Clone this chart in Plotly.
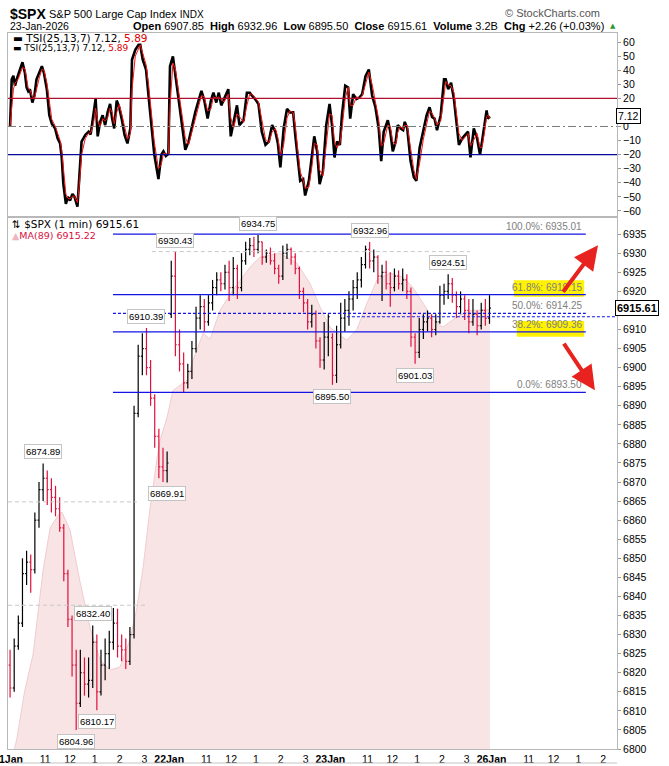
import plotly.graph_objects as go

# ---------------- data ----------------
day_labels = ["21Jan", "22Jan", "23Jan", "26Jan"]
session_minutes = 390
hour_offsets = [90, 150, 210, 270, 330]
hour_labels = ["11", "12", "1", "2", "3"]

# 10-minute OHLC bars, minutes since 21-Jan open (bar centre)
bar_minute = list(range(5, 1170, 10))
bar_open = [6822, 6816, 6827, 6833, 6846, 6849, 6847, 6860, 6868, 6871, 6868, 6866, 6863, 6858, 6846, 6834,
            6822, 6812, 6820, 6817, 6818, 6828, 6815, 6822, 6825, 6828, 6833, 6827, 6826, 6823, 6830, 6888,
            6903, 6905, 6900, 6892, 6882, 6874, 6873,
            6914, 6924, 6906, 6901, 6896, 6899, 6905, 6913, 6916, 6912, 6917, 6921, 6923, 6922, 6925, 6921,
            6926, 6921, 6928, 6931, 6932, 6931, 6933, 6929, 6930, 6928, 6926, 6924, 6930, 6931, 6929, 6926,
            6920, 6917, 6912, 6914, 6907, 6902, 6908,
            6907.85, 6898, 6906, 6913, 6915, 6918, 6921, 6923, 6927, 6931, 6928, 6929, 6924, 6925, 6922, 6921,
            6924, 6922, 6923, 6920, 6908, 6904, 6910, 6912, 6913, 6910, 6912, 6919, 6920, 6922, 6919, 6916,
            6918, 6915, 6912, 6914, 6911, 6915, 6913]
bar_high = [6826, 6829, 6835, 6850, 6852, 6851, 6862, 6870, 6874.89, 6873, 6871, 6869, 6866, 6859, 6847, 6835,
            6826, 6826, 6824, 6824, 6832.40, 6830, 6826, 6829, 6831, 6837, 6836.8, 6830, 6829, 6832, 6890, 6906,
            6909, 6910.39, 6902, 6893, 6884, 6879, 6878,
            6928, 6930.43, 6910, 6904, 6901, 6907, 6916, 6919, 6918, 6919, 6923, 6925, 6925, 6927, 6928,
            6929, 6927, 6930, 6933, 6934, 6934.3, 6934.75, 6933, 6931, 6931.5, 6930, 6927, 6932, 6932.5, 6931.5,
            6930, 6926.5, 6921, 6918, 6916.5, 6915, 6908, 6912, 6914,
            6909, 6911, 6917, 6918, 6920, 6923, 6925, 6929, 6932, 6932.96, 6931, 6929.5, 6927, 6928, 6925, 6926,
            6925.5, 6926, 6924.5, 6921, 6909, 6913, 6914, 6915, 6914, 6914, 6921.5, 6922, 6924.51, 6923.5, 6920,
            6920, 6919, 6918, 6918, 6915, 6917, 6918, 6919]
bar_low = [6813.5, 6815, 6826, 6832, 6843, 6841, 6846, 6858, 6865, 6864, 6862, 6861, 6857, 6844, 6832, 6819,
           6804.96, 6811, 6814, 6813.5, 6816, 6810.17, 6814, 6818, 6821, 6826, 6824, 6823, 6821, 6822, 6829, 6887,
           6898, 6898, 6890, 6879, 6871, 6870, 6869.91,
           6913, 6903, 6899, 6893.5, 6894.5, 6897, 6904, 6910, 6909.5, 6911, 6915, 6919, 6920, 6920.5, 6917.5,
           6919, 6918, 6920, 6927, 6929.5, 6929, 6930, 6927, 6927.5, 6927, 6924.5, 6922, 6923, 6928.5, 6927,
           6924.5, 6918, 6914.5, 6910, 6910.5, 6905, 6900, 6899.5, 6903,
           6895.50, 6896, 6905, 6909.5, 6911, 6915, 6918, 6921, 6926, 6926, 6925, 6922, 6917.5, 6920.5, 6916, 6920,
           6920.5, 6920, 6918, 6905.5, 6901.03, 6902.5, 6907.5, 6909.5, 6908, 6908.5, 6911.5, 6916.5, 6918, 6917,
           6913, 6914, 6912.5, 6909, 6911, 6908.5, 6910, 6911, 6911.5]
bar_close = [6816, 6827, 6833, 6846, 6849, 6847, 6860, 6868, 6871, 6868, 6866, 6863, 6858, 6846, 6834, 6822,
             6812, 6820, 6817, 6818, 6828, 6815, 6822, 6825, 6828, 6833, 6827, 6826, 6823, 6830, 6888, 6903,
             6905, 6900, 6892, 6882, 6874, 6873, 6875,
             6924, 6906, 6901, 6896, 6899, 6905, 6913, 6916, 6912, 6917, 6921, 6923, 6922, 6925, 6921,
             6926, 6921, 6928, 6931, 6932, 6931, 6933, 6929, 6930, 6928, 6926, 6924, 6930, 6931, 6929, 6926,
             6920, 6917, 6912, 6914, 6907, 6902, 6908, 6913.35,
             6898, 6906, 6913, 6915, 6918, 6921, 6923, 6927, 6931, 6928, 6929, 6924, 6925, 6922, 6921, 6924,
             6922, 6923, 6920, 6908, 6904, 6910, 6912, 6913, 6910, 6912, 6919, 6920, 6922, 6919, 6916, 6918,
             6915, 6912, 6914, 6911, 6915, 6913, 6915.61]

# MA(89) outline
ma_minute = [10, 22, 40, 61, 85, 102, 126, 131, 150, 174, 198, 223, 247, 271, 295, 312, 327, 344, 361, 368,
             385, 399, 433, 448, 472, 489, 513, 544, 586, 610, 658, 699, 731, 755, 779, 820, 844, 869, 893,
             924, 956, 980, 1004, 1028, 1052, 1086, 1121, 1166]
ma_value = [6797, 6803, 6815, 6825, 6847, 6858, 6862, 6862, 6857.4, 6844, 6832, 6823.3, 6820.7, 6821.5,
            6828.6, 6837, 6847.7, 6863.4, 6876.5, 6881, 6887, 6894, 6896.7, 6902, 6909, 6907.5, 6915, 6920.3,
            6926.4, 6929, 6930, 6927.4, 6922, 6915.9, 6910.6, 6907.2, 6910, 6917, 6923, 6924.8, 6923.7, 6921,
            6917, 6912.5, 6910.6, 6913.3, 6915, 6915.22]

# TSI(25,13,7) and its signal line
tsi_minute = [5, 9, 13, 17, 21, 25, 29, 35, 41, 45, 49, 53, 59, 64, 69, 76, 82, 87, 94, 100,
              106, 114, 120, 126, 130, 134, 140, 145, 150, 156, 161, 168, 173, 178, 187, 195, 200, 207, 212, 217,
              223, 229, 235, 241, 247, 252, 257, 263, 269, 275, 282, 289, 296, 300, 308, 316, 320, 326, 334, 340,
              348, 354, 364, 371, 376, 382, 388, 392, 399, 405, 413, 421, 429, 437, 445, 453, 461, 468, 475, 483,
              491, 497, 504, 510, 516, 523, 533, 539, 546, 554, 560, 570, 578, 585, 590, 598, 606, 614, 623, 631,
              639, 647, 653, 659, 667, 675, 682, 690, 695, 701, 707, 714, 719, 728, 736, 741, 748, 754, 762, 770,
              778, 784, 790, 796, 803, 808, 816, 823, 828, 835, 843, 851, 857, 865, 873, 881, 889, 897, 903, 909,
              919, 925, 931, 938, 943, 950, 956, 960, 966, 974, 982, 988, 996, 1005, 1013, 1020, 1026, 1032, 1038,
              1047, 1055, 1059, 1065, 1072, 1079, 1085, 1091, 1099, 1107, 1113, 1119, 1127, 1135, 1142, 1147, 1153,
              1158, 1161, 1166]
tsi_value = [0, 33.5, 36, 29, 33.5, 37, 40.5, 45.6, 38, 27.7, 25, 26.5, 17, 22, 33.5, 39, 42.8, 38, 26.5, 8,
             2, -1.4, -8.4, -12, -22, -41, -55, -50, -52.6, -48, -50, -57, -29, -10.7, -6, -3.7, -5.6, 8, 19.5, -7,
             3.3, 8, 1, 10, 16, 5.6, -1.4, 18.4, 13.7, 5.6, -6, -12, -1.4, 47.4, 54.4, 58, 58, 47.4, 40.5, 22,
             -1.4, -20, -37.4, -20, -17.7, -21, -19.5, 42.8, 49.8, 35.8, 17, 1, -16.5, -10.7, 1, 10, 18.4, 25.3, 18.4, 5.6,
             18.4, 24, 17, 24, 15, 19.5, 26.5, -7, 3.3, 15, 1, 4.4, 24, 24, 22, 19.5, 16, -3.7, -13, -10.7,
             1, -3.7, -12, -29, -1.4, 12.5, 10, 10, -6, -24.6, -38.6, -37.4, -49, -38.6, -17.7, -7, -17.7, -41, -31.6, 1,
             16, 1, -22, -10.7, -13, 8, 29, 27.7, 5.6, 23, 19.5, 20.7, 23, 35.8, 40.5, 22, 13.7, -1.4, -24.6, -3.7,
             4.4, -3.7, -17.7, -10.7, 1, -1.4, -2.6, 3.3, -1.4, -24.6, -36, -38.6, -15, -3.7, 8, 13.7, 6.7, 5.6, -2.6,
             8, 33.5, 33.5, 26.5, 31, 19.5, 3.3, -13, -8.4, -6, -3.7, -22, -1.4, -8.4, -20, -10.7, 3.3,
             11.4, 5.6, 7.12]
tsi_signal = [0, 12, 26, 31, 32, 34, 37.5, 42, 41, 33, 27, 26, 21, 20, 27, 35, 40.5, 40, 31, 16,
              5, 0.5, -5, -10, -17, -32, -48, -51, -51.5, -49.5, -49.5, -54, -40, -20, -8.5, -4.8, -4.6, 2, 13, 4,
              0, 5.5, 4, 6, 13, 10, 2, 10, 15.5, 9, -1, -9, -5, 26, 50, 56, 58, 52, 44, 30,
              9, -11, -30, -27, -19, -19.5, -20, 14, 45, 41, 25, 8, -8, -13, -4, 6, 14.5, 22, 21, 11,
              12.5, 21, 20, 21, 19, 17.5, 23, 6, -1, 9, 7, 3, 15, 23, 23, 20.5, 17.5, 5, -9, -11.5,
              -4, -1.5, -8, -21, -13, 6, 11, 10, 1, -16, -32, -38, -44, -43, -27, -12, -13, -31, -35, -13,
              9, 8, -11, -15, -12, -2, 20, 28, 15, 15, 21, 20, 22, 30, 38.5, 30, 17, 5, -14, -12,
              1, 0, -11, -13, -4, 0, -2, 1, 0.5, -14, -31, -37.5, -26, -9, 3, 11, 9.5, 6, 1,
              4, 22, 32, 29.5, 29, 24, 11, -5, -10, -7, -5, -14, -10, -5, -15, -14.5, -4,
              7, 8, 5.89]

fib_levels = [6935.01, 6919.15, 6914.25, 6909.36, 6893.50]
fib_labels = ["100.0%", "61.8%", "50.0%", "38.2%", "0.0%"]
fib_start, fib_end = 254, 1398
prev_close = 6913.35
grey_levels = [6930.43, 6864.8, 6837.7]
grey_spans = [(348, 1118), (0, 312), (0, 339)]

high_marks = [(85, 6874.89), (205, 6832.40), (335, 6910.39), (405, 6930.43), (605, 6934.75),
              (875, 6932.96), (1065, 6924.51)]
low_marks = [(165, 6804.96), (215, 6810.17), (385, 6869.91), (785, 6895.50), (985, 6901.03)]

last_close = 6915.61
last_ma = 6915.22
last_tsi, last_sig = 7.12, 5.89

# ---------------- layout helpers ----------------
W, H = 669, 766
L, R, T, B = 8, 52, 33, 17
PW, PH = W - L - R, H - T - B
X_MAX = 1473.5
split = 0.743
TICK_HALF = 3.5

def px(x):
    return (x - L) / PW

def py(y):
    return (H - B - y) / PH

FONT = "Liberation Sans, Arial, sans-serif"
DJ = "DejaVu Sans, Verdana, sans-serif"

tickvals, ticktext = [], []
for d, lab in enumerate(day_labels):
    tickvals.append(d * session_minutes)
    ticktext.append("<b>%s</b>" % lab)
    for off, hl in zip(hour_offsets, hour_labels):
        tickvals.append(d * session_minutes + off)
        ticktext.append(hl)

# build OHLC bar glyphs as line segments (so they sit above the MA area)
seg = {"up": ([], []), "down": ([], [])}
for t, o, h, l, c in zip(bar_minute, bar_open, bar_high, bar_low, bar_close):
    xs, ys = seg["up" if c >= o else "down"]
    xs += [t, t, None, t - TICK_HALF, t, None, t, t + TICK_HALF, None]
    ys += [l, h, None, o, o, None, c, c, None]

fig = go.Figure()

# MA(89) area
fig.add_trace(go.Scatter(x=ma_minute, y=ma_value, mode="lines", fill="tozeroy",
                         fillcolor="#f8e4e4", line=dict(color="#efcdd1", width=1),
                         xaxis="x", yaxis="y", hoverinfo="skip", showlegend=False))
# price bars
fig.add_trace(go.Scatter(x=seg["up"][0], y=seg["up"][1], mode="lines", line=dict(color="black", width=1.2),
                         xaxis="x", yaxis="y", hoverinfo="skip", showlegend=False, connectgaps=False))
fig.add_trace(go.Scatter(x=seg["down"][0], y=seg["down"][1], mode="lines", line=dict(color="#e0103c", width=1.2),
                         xaxis="x", yaxis="y", hoverinfo="skip", showlegend=False, connectgaps=False))
# TSI
fig.add_trace(go.Scatter(x=tsi_minute, y=tsi_value, mode="lines", line=dict(color="black", width=2.6),
                         xaxis="x2", yaxis="y2", hoverinfo="skip", showlegend=False))
fig.add_trace(go.Scatter(x=tsi_minute, y=tsi_signal, mode="lines", line=dict(color="#ff1010", width=1),
                         xaxis="x2", yaxis="y2", hoverinfo="skip", showlegend=False))

shapes = []
# TSI reference lines
shapes.append(dict(type="line", xref="x2", yref="y2", x0=0, x1=X_MAX, y0=20, y1=20,
                   line=dict(color="#b0102e", width=1.2)))
shapes.append(dict(type="line", xref="x2", yref="y2", x0=0, x1=X_MAX, y0=-20, y1=-20,
                   line=dict(color="#0a0a9a", width=1.2)))
shapes.append(dict(type="line", xref="x2", yref="y2", x0=0, x1=X_MAX, y0=0, y1=0,
                   line=dict(color="#7a7a7a", width=1, dash="8px,3px,2px,3px")))
# yellow marker highlights
shapes.append(dict(type="rect", xref="x", yref="y", x0=1224, x1=1394, y0=6918.6, y1=6922.9,
                   fillcolor="#fff200", line=dict(width=0), layer="below"))
shapes.append(dict(type="rect", xref="x", yref="y", x0=1231, x1=1394, y0=6908.1, y1=6912.2,
                   fillcolor="#fff200", line=dict(width=0), layer="below"))
# grey dashed levels
for lev, (a, b) in zip(grey_levels, grey_spans):
    shapes.append(dict(type="line", xref="x", yref="y", x0=a, x1=b, y0=lev, y1=lev,
                       line=dict(color="#c8c8c8", width=1, dash="4px,3px")))
# fib lines
for lev, lab in zip(fib_levels, fib_labels):
    shapes.append(dict(type="line", xref="x", yref="y", x0=fib_start, x1=fib_end, y0=lev, y1=lev,
                       line=dict(color="#1414e6", width=1.3,
                                 dash="3px,2px" if lab == "50.0%" else "solid")))
shapes.append(dict(type="line", xref="x", yref="y", x0=820, x1=X_MAX, y0=prev_close, y1=prev_close,
                   line=dict(color="#1414e6", width=1.2, dash="3px,2px")))
# bottom frame line
shapes.append(dict(type="line", xref="paper", yref="paper", x0=0, x1=1, y0=py(763), y1=py(763),
                   line=dict(color="#c4c4c4", width=1)))

ann = []
# header
ann.append(dict(xref="paper", yref="paper", x=px(8), y=py(14), xanchor="left", yanchor="middle",
                text="<b>$SPX</b>", font=dict(family=FONT, size=14, color="black"), showarrow=False))
ann.append(dict(xref="paper", yref="paper", x=px(47), y=py(14), xanchor="left", yanchor="middle",
                text="S&P 500 Large Cap Index <span style='font-size:10px'>INDX</span>",
                font=dict(family=FONT, size=11, color="black"), showarrow=False))
ann.append(dict(xref="paper", yref="paper", x=px(602), y=py(13), xanchor="right", yanchor="middle",
                text="© StockCharts.com", font=dict(family=FONT, size=11, color="#555555"), showarrow=False))
ann.append(dict(xref="paper", yref="paper", x=px(8), y=py(26), xanchor="left", yanchor="middle",
                text="23-Jan-2026", font=dict(family=FONT, size=10.5, color="black"), showarrow=False))
gap = "&nbsp;&nbsp;"
ann.append(dict(xref="paper", yref="paper", x=px(606), y=py(26), xanchor="right", yanchor="middle",
                text=("<b>Open</b> 6907.85" + gap + "<b>High</b> 6932.96" + gap + "<b>Low</b> 6895.50" + gap +
                      "<b>Close</b> 6915.61" + gap + "<b>Volume</b> 3.2B" + gap + "<b>Chg</b> +2.26 (+0.03%)"),
                font=dict(family=FONT, size=11, color="black"), showarrow=False))
ann.append(dict(xref="paper", yref="paper", x=px(608), y=py(26), xanchor="left", yanchor="middle",
                text="▲", font=dict(family=DJ, size=7, color="#2e9a2e"), showarrow=False))
# TSI legend
ann.append(dict(xref="paper", yref="paper", x=px(11), y=py(38), xanchor="left", yanchor="middle",
                text="▬ TSI(25,13,7) %.2f, <span style='color:#e00000'>%.2f</span>" % (last_tsi, last_sig),
                font=dict(family=DJ, size=10.5, color="black"), showarrow=False))
ann.append(dict(xref="paper", yref="paper", x=px(11), y=py(48.5), xanchor="left", yanchor="middle",
                text="▬ TSI(25,13,7) %.2f, <span style='color:#e00000'>%.2f</span>" % (last_tsi, last_sig),
                font=dict(family=DJ, size=9, color="black"), showarrow=False))
# main legend
ann.append(dict(xref="paper", yref="paper", x=px(10), y=py(224), xanchor="left", yanchor="middle",
                text="⇅ $SPX (1 min) %.2f" % last_close,
                font=dict(family=DJ, size=10.5, color="black"), showarrow=False))
ann.append(dict(xref="paper", yref="paper", x=px(10), y=py(236), xanchor="left", yanchor="middle",
                text="<span style='color:#f0b4bc'>▲</span>MA(89) %.2f" % last_ma,
                font=dict(family=DJ, size=9.5, color="#d81040"), showarrow=False))
# fib labels
for lev, lab in zip(fib_levels, fib_labels):
    ann.append(dict(xref="x", yref="y", x=fib_end - 4, y=lev, xanchor="right", yanchor="bottom",
                    text="%s: %.2f" % (lab, lev), font=dict(family=FONT, size=10, color="#808080"),
                    showarrow=False, yshift=0))
# high / low labels
for t, v in high_marks:
    ann.append(dict(xref="x", yref="y", x=t, y=v, xanchor="center", yanchor="bottom", yshift=4,
                    text="%.2f" % v, font=dict(family=FONT, size=9.5, color="black"),
                    bgcolor="white", bordercolor="#c4c4c4", borderwidth=1, borderpad=1, showarrow=False))
for t, v in low_marks:
    ann.append(dict(xref="x", yref="y", x=t, y=v, xanchor="center", yanchor="top", yshift=-4,
                    text="%.2f" % v, font=dict(family=FONT, size=9.5, color="black"),
                    bgcolor="white", bordercolor="#c4c4c4", borderwidth=1, borderpad=1, showarrow=False))
# red arrows
ann.append(dict(xref="x", yref="y", x=1427.5, y=6932.1, ax=-36, ay=48, text="", showarrow=True,
                arrowhead=2, arrowsize=1.2, arrowwidth=4, arrowcolor="#e8221e", standoff=0))
ann.append(dict(xref="x", yref="y", x=1420, y=6894.1, ax=-32, ay=-48, text="", showarrow=True,
                arrowhead=2, arrowsize=1.2, arrowwidth=4, arrowcolor="#e8221e", standoff=0))
# right-axis value boxes
ann.append(dict(xref="paper", yref="y", x=px(615), y=last_close, xanchor="left", yanchor="middle",
                text="<b>%.2f</b>" % last_close, font=dict(family=FONT, size=11, color="black"),
                bgcolor="white", bordercolor="black", borderwidth=1, borderpad=1, showarrow=False))
ann.append(dict(xref="paper", yref="y2", x=px(616), y=last_tsi, xanchor="left", yanchor="middle",
                text="%.2f" % last_tsi, font=dict(family=FONT, size=10.5, color="black"),
                bgcolor="white", bordercolor="black", borderwidth=1, borderpad=1, showarrow=False))

axis_common = dict(showgrid=False, zeroline=False, showline=True, mirror=True, linecolor="#b8b8b8",
                   linewidth=1, automargin=False)

fig.update_layout(
    width=W, height=H, margin=dict(l=L, r=R, t=T, b=B, autoexpand=False),
    paper_bgcolor="white", plot_bgcolor="white", showlegend=False,
    shapes=shapes, annotations=ann,
    xaxis=dict(domain=[0, 1], range=[0, X_MAX], tickmode="array", tickvals=tickvals, ticktext=ticktext,
               ticks="", tickfont=dict(family=FONT, size=10.5, color="black"), ticklabeloverflow="allow",
               anchor="y", **axis_common),
    xaxis2=dict(domain=[0, 1], range=[0, X_MAX], showticklabels=False, ticks="", anchor="y2",
                matches="x", **axis_common),
    yaxis=dict(domain=[0, split], range=[6800, 6939.5], side="right", anchor="x",
               tickmode="linear", tick0=6805, dtick=5, ticks="outside", ticklen=3, tickcolor="#999999",
               tickfont=dict(family=FONT, size=10.5, color="black"), **axis_common),
    yaxis2=dict(domain=[split, 1], range=[-64.3, 66.4], side="right", anchor="x2",
                tickmode="linear", tick0=-60, dtick=10, ticks="outside", ticklen=3, tickcolor="#999999",
                tickfont=dict(family=FONT, size=10.5, color="black"), **axis_common),
)

fig.write_html("out.html", config={"displayModeBar": False},
               post_script="document.body.style.margin='0px';document.body.style.overflow='hidden';")
